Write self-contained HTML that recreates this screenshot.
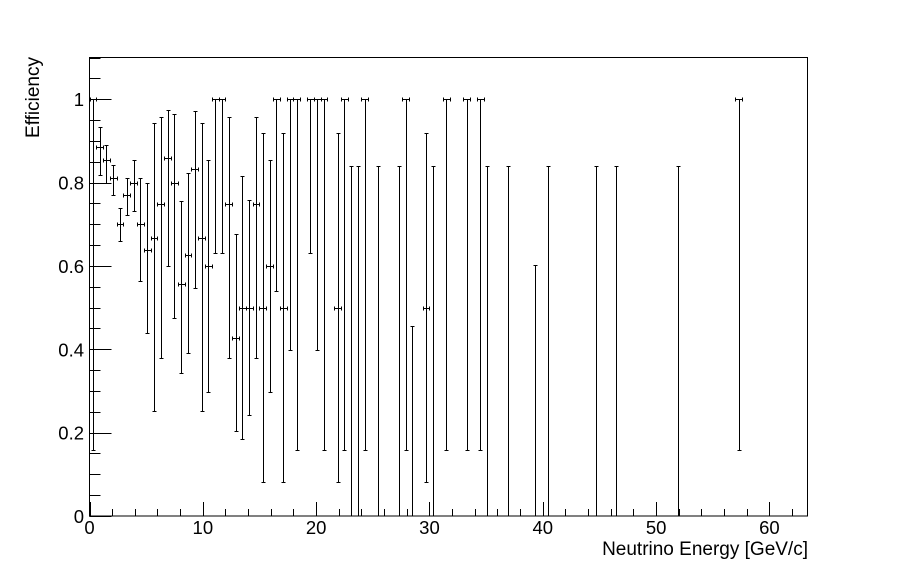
<!DOCTYPE html>
<html><head><meta charset="utf-8"><style>
html,body{margin:0;padding:0;background:#fff;}
svg{display:block;font-family:"Liberation Sans",sans-serif;}
</style></head><body>
<svg id="chart" width="898" height="574" viewBox="0 0 898 574"></svg>
<script>
const centers=[0.3,0.9,1.5,2.1,2.7,3.3,3.9,4.5,5.1,5.7,6.3,6.9,7.5,8.1,8.7,9.3,9.9,10.5,11.1,11.7,12.3,12.9,13.5,14.1,14.7,15.3,15.9,16.5,17.1,17.7,18.3,19.5,20.1,20.7,21.9,22.5,23.1,23.7,24.3,25.5,27.3,27.9,28.5,29.7,30.3,31.5,33.3,34.5,35.1,36.9,39.3,40.5,44.7,46.5,51.9,57.3];
const effValues=[1,0.886,0.853,0.81,0.70,0.769,0.80,0.70,0.637,0.666,0.749,0.858,0.80,0.556,0.625,0.833,0.666,0.599,1,1,0.749,0.428,0.5,0.5,0.749,0.5,0.599,1,0.5,1,1,1,1,1,0.5,1,0,0,1,0,0,1,0,0.5,0,1,1,1,0,0,0,0,0,0,0,1];
const lowBounds=[0.158,0.817,0.80,0.771,0.659,0.723,0.731,0.563,0.44,0.252,0.38,0.599,0.476,0.342,0.39,0.546,0.251,0.297,0.63,0.63,0.38,0.205,0.184,0.242,0.38,0.0815,0.297,0.541,0.0815,0.398,0.158,0.63,0.398,0.158,0.0815,0.158,0,0,0.158,0,0,0.158,0,0.0815,0,0.158,0.158,0.158,0,0,0,0,0,0,0,0.158];
const highBounds=[1,0.934,0.891,0.842,0.738,0.811,0.854,0.811,0.80,0.943,0.958,0.974,0.965,0.755,0.822,0.972,0.943,0.853,1,1,0.958,0.676,0.815,0.757,0.958,0.918,0.853,1,0.918,1,1,1,1,1,0.918,1,0.84,0.84,1,0.84,0.84,1,0.457,0.918,0.84,1,1,1,0.84,0.84,0.601,0.84,0.84,0.84,0.84,1];
const binHalfWidth=0.3;
const xTickLabels=["0","10","20","30","40","50","60"];
const yTickLabels=["0","0.2","0.4","0.6","0.8","1"];

const L=89.5,R=807.5,T=57.5,B=516;
const XMAX=63.36,YMAX=1.1;
const sx=v=>L+v/XMAX*(R-L);
const sy=v=>B-v/YMAX*(B-T);
const NS="http://www.w3.org/2000/svg";
const svg=document.getElementById('chart');
function mk(tag,attrs,parent){const e=document.createElementNS(NS,tag);for(const k in attrs)e.setAttribute(k,attrs[k]);(parent||svg).appendChild(e);return e;}
function ln(x1,y1,x2,y2,p){return mk('line',{x1:x1,y1:y1,x2:x2,y2:y2,stroke:'#000','stroke-width':1,'shape-rendering':'crispEdges'},p);}

const frame=mk('rect',{x:L,y:T,width:R-L,height:B-T,fill:'none',stroke:'#000','stroke-width':1,'shape-rendering':'crispEdges'});



const xAxis=mk('g',{});


for(let v=0;v<=62;v+=2){
  const major=v%10===0;
  ln(Math.round(sx(v))+0.5,B,Math.round(sx(v))+0.5,B-(major?14:7),xAxis);
}
xTickLabels.forEach(t=>{
  const tx=mk('text',{x:sx(+t),y:534,'font-size':18.5,'text-anchor':'middle'},xAxis);
  
  
  tx.textContent=t;
});
const xt=mk('text',{x:808,y:555,'font-size':19,'text-anchor':'end'});


xt.textContent='Neutrino Energy [GeV/c]';

const yAxis=mk('g',{});


for(let i=0;i<=22;i++){
  const v=i*0.05;const major=i%4===0;
  const y=Math.round(sy(v))+0.5;
  ln(L,y,L+(major?22:11),y,yAxis);
}
yTickLabels.forEach(t=>{
  const ty=mk('text',{x:84,y:sy(+t)+7,'font-size':18.5,'text-anchor':'end'},yAxis);
  
  
  ty.textContent=t;
});
const yt=mk('text',{x:0,y:0,'font-size':19,'text-anchor':'end',transform:'translate(39,57) rotate(-90)'});


yt.textContent='Efficiency';

const pts=mk('g',{});


centers.forEach((c,i)=>{
  const g=mk('g',{},pts);
  
  
  const x=Math.round(sx(c))+0.5;
  const y=Math.round(sy(effValues[i]))+0.5;
  const yl=Math.round(sy(lowBounds[i]))+0.5;
  const yh=Math.round(sy(highBounds[i]))+0.5;
  const xl=sx(c-binHalfWidth),xr=sx(c+binHalfWidth);
  if(effValues[i]>0){
    ln(Math.round(xl)+0.5,y,Math.round(xr)+0.5,y,g);
    ln(Math.round(xl)+0.5,y-2,Math.round(xl)+0.5,y+2,g);
    ln(Math.round(xr)+0.5,y-2,Math.round(xr)+0.5,y+2,g);
  }
  ln(x,yh,x,yl,g);
  ln(x-2,yh,x+2,yh,g);
  if(lowBounds[i]>0) ln(x-2,yl,x+2,yl,g);
});
</script>
</body></html>
